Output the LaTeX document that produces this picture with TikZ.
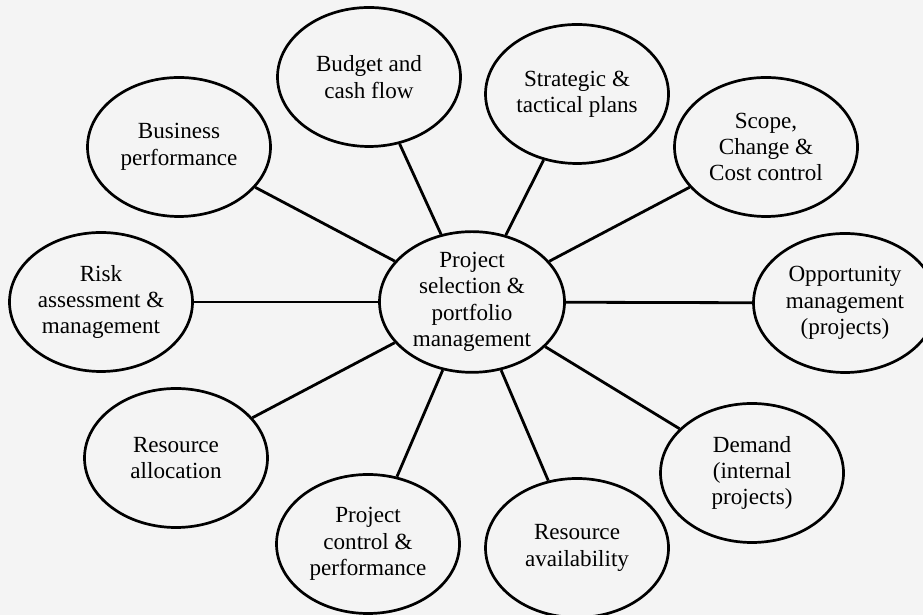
\documentclass[tikz,border=0pt]{standalone}
\usepackage{fontspec}
\setmainfont{Liberation Serif}
\usetikzlibrary{shapes.geometric}
\definecolor{papercol}{rgb}{0.957,0.957,0.957}
\begin{document}
\begin{tikzpicture}[x=1bp,y=1bp,line join=bevel,
  topic/.style={draw,ellipse,line width=2.7bp,fill=papercol,inner sep=0pt,
    minimum width=183bp,minimum height=139bp,align=center,
    font=\fontsize{23.2}{26.5}\selectfont},
  spoke/.style={line width=2.8bp}]
  \fill[papercol] (0,0) rectangle (923,615);
  \useasboundingbox (0,0) rectangle (923,615);
%%
  % Node: Project selection & portfolio management
  \node[topic,minimum width=185bp] (hub) at (472bp,313bp) {Project\\selection \&\\portfolio\\management};
  % Node: Budget and cash flow
  \node[topic] (budget) at (369bp,538bp) {Budget and\\cash flow};
  % Node: Strategic & tactical plans
  \node[topic] (plans) at (577bp,521bp) {Strategic \&\\tactical plans};
  % Node: Business performance
  \node[topic] (business) at (179bp,468bp) {Business\\performance};
  % Node: Scope, Change & Cost control
  \node[topic] (scope) at (766bp,468bp) {Scope,\\Change \&\\Cost control};
  % Node: Risk assessment & management
  \node[topic] (risk) at (101bp,313bp) {Risk\\assessment \&\\management};
  % Node: Opportunity management (projects)
  \node[topic] (opportunity) at (845bp,312bp) {Opportunity\\management\\(projects)};
  % Node: Resource allocation
  \node[topic] (allocation) at (176bp,157bp) {Resource\\allocation};
  % Node: Demand (internal projects)
  \node[topic] (demand) at (752bp,142bp) {Demand\\(internal\\projects)};
  % Node: Project control & performance
  \node[topic] (control) at (368bp,71bp) {Project\\control \&\\performance};
  % Node: Resource availability
  \node[topic] (availability) at (577bp,67bp) {Resource\\availability};
%
  % Edges: hub -> every topic
  \foreach \t in {budget,plans,business,scope,risk,opportunity,allocation,demand,control,availability}
    \draw[spoke] (hub) -- (\t);
%
\end{tikzpicture}
\end{document}
